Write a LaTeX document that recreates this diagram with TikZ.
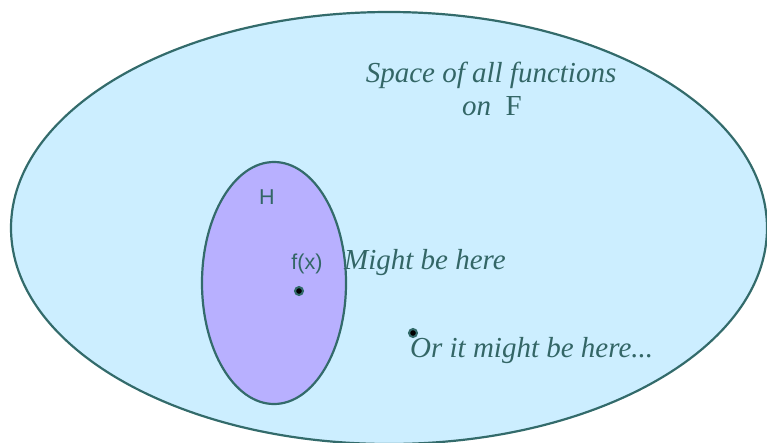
\documentclass[tikz,border=0pt]{standalone}
\usepackage{fontspec}
\setmainfont{Liberation Serif}
\newfontfamily\labelsans{Liberation Sans}
\definecolor{edgeteal}{HTML}{336B6B}
\definecolor{textteal}{HTML}{336666}
\definecolor{spaceblue}{HTML}{CCEEFF}
\definecolor{subpurple}{HTML}{B8B0FF}
\begin{document}
\begin{tikzpicture}[x=1pt,y=-1pt,
  setshape/.style={draw=edgeteal,line width=2.2pt},
  serifit/.style={text=textteal,font=\fontsize{29}{32}\selectfont\itshape,inner sep=0pt},
  sanslbl/.style={text=textteal,font=\labelsans\fontsize{21.5}{24}\selectfont,inner sep=0pt},
  ptdot/.style={circle,fill=black,draw=edgeteal,line width=2pt,minimum size=8pt,inner sep=0pt}]
\useasboundingbox (0,0) rectangle (767,442);
\begin{scope}
\clip (0,0) rectangle (767,442);
\path[setshape,fill=spaceblue] (389,228) ellipse [x radius=378, y radius=216];
\end{scope}
\path[setshape,fill=subpurple] (274,283) ellipse [x radius=72, y radius=121];
\node[serifit,anchor=base] (space) at (491,82) {Space of all functions};
\node[serifit,anchor=base] (on) at (492,115) {on\ \ \upshape F};
\node[sanslbl] (H) at (267,197) {H};
\node[sanslbl] (fx) at (307,264) {f(x)};
\node[ptdot] (d1) at (299,291) {};
\node[serifit,anchor=base west] (might) at (344,269) {Might be here};
\node[ptdot] (d2) at (413,333) {};
\node[serifit,anchor=base west] (orit) at (410,357) {Or it might be here...};
\end{tikzpicture}
\end{document}
